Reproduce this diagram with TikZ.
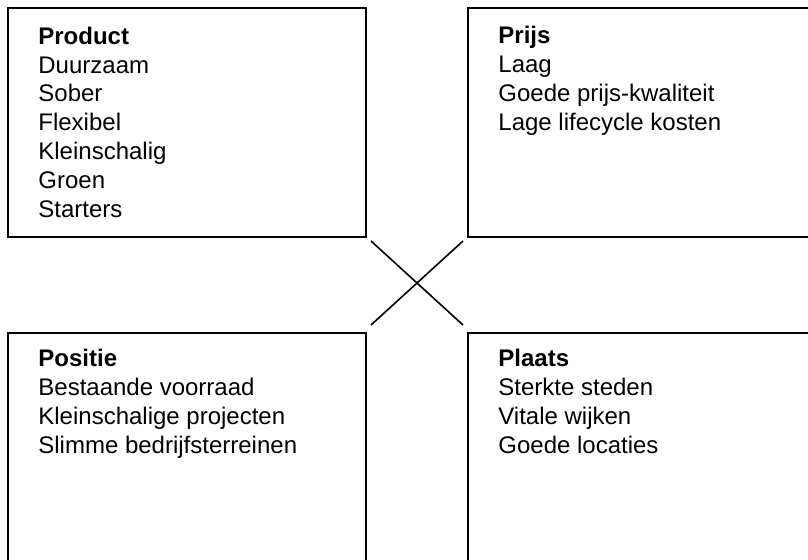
\documentclass[tikz,border=0pt]{standalone}
\usepackage{fontspec}
\setmainfont{Liberation Sans}
\usetikzlibrary{calc}

\begin{document}
\begin{tikzpicture}[x=0.5pt,y=-0.5pt,
  box/.style={draw,line width=1pt},
  cross/.style={draw,line width=0.8pt},
  list node/.style={anchor=base west,inner sep=0pt,align=left,
    font=\fontsize{12}{14.4}\selectfont}]

  \useasboundingbox (0,0) rectangle (808,559);
  \clip (0,0) rectangle (808,559);

  % the four quadrants
  \draw[box] (8,8) rectangle (366,237);
  \draw[box] (468,8) rectangle (830,237);
  \draw[box] (8,333) rectangle (366,600);
  \draw[box] (468,333) rectangle (830,600);

  % base anchor = baseline of the last line
  \node[list node] (product) at (38,217) {\textbf{Product}\\Duurzaam\\Sober\\Flexibel\\Kleinschalig\\Groen\\Starters};
  \node[list node] (prijs) at (498,130) {\textbf{Prijs}\\Laag\\Goede prijs-kwaliteit\\Lage lifecycle kosten};
  \node[list node] (positie) at (38,453) {\textbf{Positie}\\Bestaande voorraad\\Kleinschalige projecten\\Slimme bedrijfsterreinen};
  \node[list node] (plaats) at (498,453) {\textbf{Plaats}\\Sterkte steden\\Vitale wijken\\Goede locaties};

  % the cross in the middle
  \coordinate (c1) at (371,241);
  \coordinate (c2) at (463,241);
  \coordinate (c3) at (371,325);
  \coordinate (c4) at (463,325);
  \draw[cross] (c1) -- (c4);
  \draw[cross] (c2) -- (c3);
\end{tikzpicture}
\end{document}
